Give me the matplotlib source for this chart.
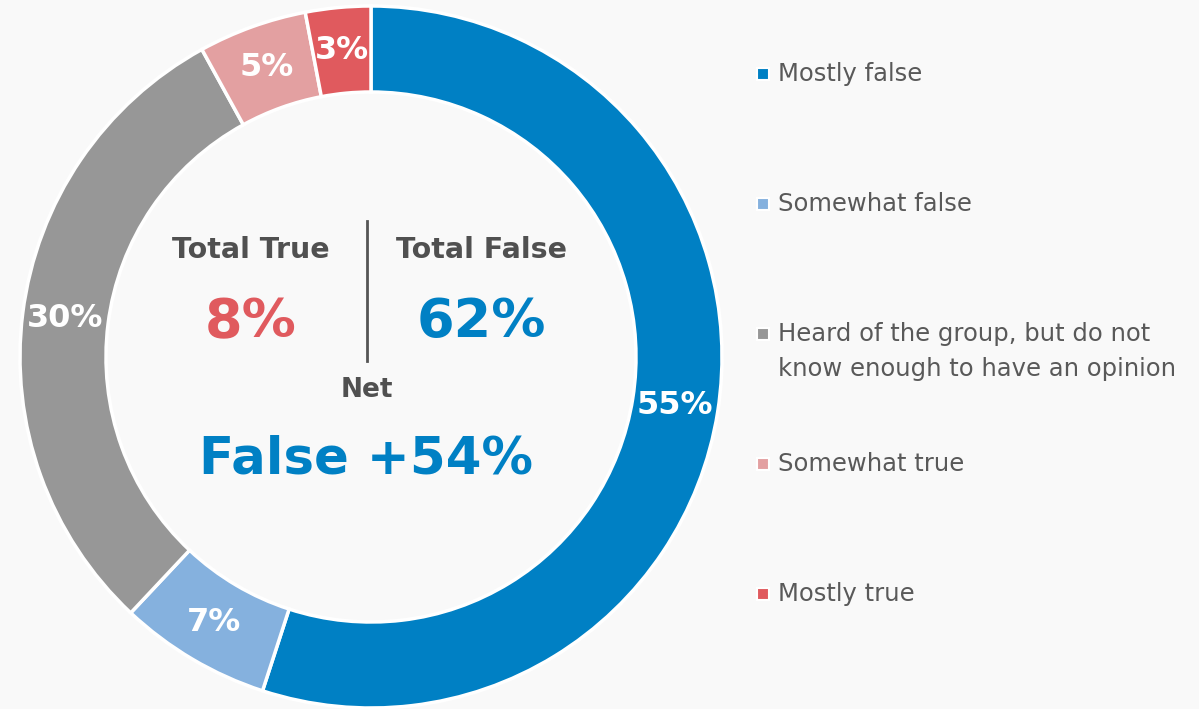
import matplotlib
matplotlib.use("Agg")
import matplotlib.pyplot as plt
from matplotlib.patches import Rectangle

# ---- data ----
categories = ["Mostly false", "Somewhat false",
              "Heard of the group, but do not\nknow enough to have an opinion",
              "Somewhat true", "Mostly true"]
values = [55, 7, 30, 5, 3]
colors = ["#0080C4", "#85B1DE", "#979797", "#E3A0A1", "#E05A5E"]
total_true_label = "Total True"
total_false_label = "Total False"
total_true = "8%"
total_false = "62%"
net_label = "Net"
net_value = "False +54%"

W, H = 1199, 709
BG = "#F9F9F9"
fig = plt.figure(figsize=(W / 100, H / 100), dpi=100, facecolor=BG)

def fx(x):
    return x / W

def fy(y):
    return 1 - y / H

# donut geometry (pixels)
cx, cy, R = 371, 357, 351
ax = fig.add_axes([fx(cx - R), fy(cy + R), 2 * R / W, 2 * R / H])
ax.set_facecolor(BG)
ring = 0.245
wedges, texts, autotexts = ax.pie(
    values, colors=colors, startangle=90, counterclock=False, radius=1,
    autopct=lambda p: f"{p:.0f}%", pctdistance=1 - ring / 2,
    wedgeprops=dict(width=ring, edgecolor="white", linewidth=2.5),
    textprops=dict(color="white", fontsize=23, fontweight="bold"))
ax.set_xlim(-1.0, 1.0)
ax.set_ylim(-1.0, 1.0)
ax.axis("off")
for w in wedges:
    w.set_clip_on(False)

# center annotations
dark = "#505050"
fig.text(fx(251), fy(250), total_true_label, ha="center", va="center",
         fontsize=20.5, fontweight="bold", color=dark)
fig.text(fx(482), fy(250), total_false_label, ha="center", va="center",
         fontsize=20.5, fontweight="bold", color=dark)
fig.text(fx(251), fy(322), total_true, ha="center", va="center",
         fontsize=39, fontweight="bold", color=colors[4])
fig.text(fx(481), fy(322), total_false, ha="center", va="center",
         fontsize=39, fontweight="bold", color=colors[0])
fig.add_artist(plt.Line2D([fx(367), fx(367)], [fy(221), fy(361)],
                          color="#555555", lw=2, transform=fig.transFigure))
fig.text(fx(367), fy(390), net_label, ha="center", va="center",
         fontsize=19, fontweight="bold", color=dark)
fig.text(fx(366), fy(460), net_value, ha="center", va="center",
         fontsize=37, fontweight="bold", color=colors[0])

# legend (manual, entries spaced evenly; marker aligned to first line)
leg_x, leg_y0, leg_dy, line_dy = 763, 74, 130, 35
sq = 12
for i, (lab, col) in enumerate(zip(categories, colors)):
    y = leg_y0 + i * leg_dy
    fig.add_artist(Rectangle((fx(leg_x - sq / 2), fy(y + sq / 2)), sq / W, sq / H,
                             facecolor=col, edgecolor="white", lw=1.5,
                             transform=fig.transFigure))
    for j, line in enumerate(lab.split("\n")):
        fig.text(fx(778), fy(y + j * line_dy), line, ha="left", va="center",
                 fontsize=17.5, color="#595959")

fig.savefig("out.png", dpi=100, facecolor=BG)
